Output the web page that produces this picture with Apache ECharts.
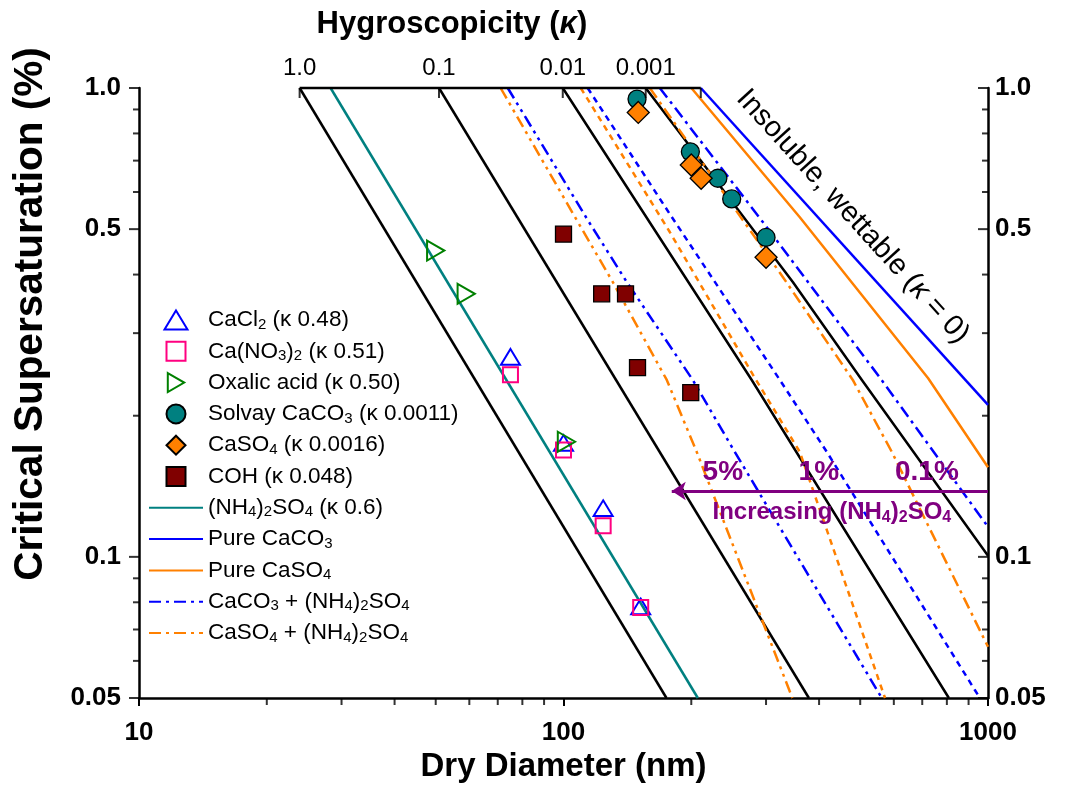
<!DOCTYPE html>
<html><head><meta charset="utf-8">
<script src="https://cdn.jsdelivr.net/npm/echarts@6/dist/echarts.min.js"></script>
<style>html,body{margin:0;padding:0;background:#fff}#c{width:1065px;height:793px}</style>
</head><body><div id="c"></div>
<script>
// ---------------- DATA ----------------
// kappa (top) axis
const kappaTopLabels = ['1.0', '0.1', '0.01', '0.001'];
const kappaTopX = [23.9, 50.9, 99.6, 156.2];
const kappaAxisEndX = 210.6;

// black kappa isolines
const kappa1Line = [[23.9, 1.0], [174.8, 0.05]];
const kappa01Line = [[50.9, 1.0], [378.5, 0.05]];
const kappa001Line = [[99.6, 1.0], [277.6, 0.2384], [808.7, 0.05]];
const kappa0001Line = [[156.2, 1.0], [346.9, 0.3858], [504.5, 0.2384], [1000, 0.1005]];

// theory lines
const ammSulfLine = [[28.27, 1.0], [207.2, 0.05]];
const pureCaCO3Line = [[210.6, 1.0], [1000, 0.211]];
const pureCaSO4Line = [[200.1, 1.0], [360.3, 0.530], [722.8, 0.2404], [1000, 0.1553]];
const caco3AS01 = [[168.6, 1.0], [294.8, 0.5178], [559.3, 0.2396], [1000, 0.1159]];
const caso4AS01 = [[159.7, 1.0], [328.6, 0.3954], [480.3, 0.2384], [593.6, 0.1674], [1000, 0.0643]];
const caco3AS1 = [[114.0, 1.0], [178.0, 0.5386], [319.8, 0.242], [417.2, 0.1674], [931.2, 0.052], [957, 0.05]];
const caso4AS1 = [[109.8, 1.0], [178.0, 0.493], [282.3, 0.2408], [360.3, 0.1674], [572, 0.05]];
const caco3AS5 = [[73.9, 1.0], [114.0, 0.5231], [140.9, 0.3858], [201.6, 0.2384], [253.2, 0.1674], [562, 0.05]];
const caso4AS5 = [[71.1, 1.0], [107.4, 0.5231], [130.6, 0.3858], [175.1, 0.2384], [206.0, 0.1674], [346, 0.05]];

// measurements
const cacl2 = [[75, 0.267], [100, 0.175], [124, 0.127], [152, 0.0784]];
const cano3 = [[75, 0.2445], [100, 0.169], [124, 0.1165], [152, 0.078]];
const oxalic = [[50, 0.45], [59, 0.364], [101.6, 0.176]];
const solvay = [[149, 0.947], [199, 0.731], [231, 0.642], [249, 0.58], [300, 0.48]];
const caso4 = [[150, 0.887], [200, 0.685], [211, 0.642], [300, 0.4355]];
const coh = [[100, 0.488], [123, 0.364], [140, 0.364], [149.4, 0.2533], [199.4, 0.224]];

// axis ticks
const yMajorTicks = [1.0, 0.5, 0.1, 0.05];
const yMajorLabels = ['1.0', '0.5', '0.1', '0.05'];
const yMinorTicks = [0.9, 0.8, 0.7, 0.6, 0.4, 0.3, 0.2, 0.09, 0.08, 0.07, 0.06];
const xMinorTicks = [20, 30, 40, 50, 60, 70, 80, 90, 200, 300, 400, 500, 600, 700, 800, 900];

// annotations (data coordinates)
const insolubleAnchor = [480, 0.532];
const pctAnchors = [[237.3, 0.1518], [399.4, 0.1518], [717.8, 0.1518]];
const pctLabels = ['5%', '1%', '0.1%'];
const increasingAnchor = [428.7, 0.1247];
const arrowStart = [1000, 0.1382];
const arrowEnd = [179.9, 0.1382];

// ---------------- STYLE ----------------
const FONT = "'Liberation Sans', Arial, Helvetica, sans-serif";
const BLUE = '#0000FF', ORANGE = '#FF8000', TEAL = '#008080', PURPLE = '#800080';
const LW = 2.5;
const DASHDOT = [12, 5, 3, 5];
const SHORTDASH = [6, 5];
const DASHDOTDOT = [12, 5, 3, 5, 3, 5];
const SYM_TRI_UP = 'path://M0,-10L11.5,9L-11.5,9Z';
const SYM_TRI_RIGHT = 'path://M-9,-11L10,0L-9,11Z';
const SYM_SQUARE = 'path://M0,0L10,0L10,10L0,10Z';
const SYM_DIAMOND = 'path://M0,-10L10,0L0,10L-10,0Z';

const legendRich = {
  '(NH4)2SO4 (κ 0.6)': '(NH{s|4}){s|2}SO{s|4} (κ 0.6)',
  'CaCl2 (κ 0.48)': 'CaCl{s|2} (κ 0.48)',
  'Ca(NO3)2 (κ 0.51)': 'Ca(NO{s|3}){s|2} (κ 0.51)',
  'Oxalic acid (κ 0.50)': 'Oxalic acid (κ 0.50)',
  'Solvay CaCO3 (κ 0.0011)': 'Solvay CaCO{s|3} (κ 0.0011)',
  'CaSO4 (κ 0.0016)': 'CaSO{s|4} (κ 0.0016)',
  'COH (κ 0.048)': 'COH (κ 0.048)',
  'Pure CaCO3': 'Pure CaCO{s|3}',
  'Pure CaSO4': 'Pure CaSO{s|4}',
  'CaCO3 + (NH4)2SO4': 'CaCO{s|3} + (NH{s|4}){s|2}SO{s|4}',
  'CaSO4 + (NH4)2SO4': 'CaSO{s|4} + (NH{s|4}){s|2}SO{s|4}'
};

function lineSeries(name, data, color, type, width) {
  return {
    name: name, type: 'line', data: data, symbol: 'none', z: 2,
    lineStyle: { color: color, width: width || LW, type: type || 'solid', join: 'round' },
    itemStyle: { color: 'rgba(0,0,0,0)', borderWidth: 0 }, silent: true
  };
}
function markerSeries(name, data, symbol, size, fill, border, bw) {
  return {
    name: name, type: 'scatter', data: data, symbol: symbol, symbolSize: size,
    symbolKeepAspect: true, z: 5, clip: false, silent: true,
    itemStyle: { color: fill, borderColor: border, borderWidth: bw, opacity: 1 }
  };
}
function tickSeries(data, size, offset) {
  return {
    type: 'scatter', data: data, symbol: 'rect', symbolSize: size, symbolOffset: offset,
    clip: false, silent: true, z: 6, itemStyle: { color: '#000' }
  };
}
function labelSeries(data, texts, pos, dist, textStyle, rotate) {
  return {
    type: 'scatter', data: data, symbolSize: 0, clip: false, silent: true, z: 7,
    itemStyle: { color: '#000', opacity: 1 },
    label: Object.assign({
      show: true, position: pos, distance: dist, rotate: rotate || 0,
      textBorderWidth: 0, textBorderColor: 'transparent', opacity: 1,
      formatter: function (p) { return texts[p.dataIndex]; }
    }, textStyle)
  };
}

const series = [
  lineSeries('k1', kappa1Line, '#000'),
  lineSeries('k01', kappa01Line, '#000'),
  lineSeries('k001', kappa001Line, '#000'),
  lineSeries('k0001', kappa0001Line, '#000'),
  lineSeries('CaCO3 + (NH4)2SO4', caco3AS01, BLUE, DASHDOT),
  lineSeries('CaSO4 + (NH4)2SO4', caso4AS01, ORANGE, DASHDOT),
  lineSeries('caco3AS1', caco3AS1, BLUE, SHORTDASH),
  lineSeries('caso4AS1', caso4AS1, ORANGE, SHORTDASH),
  lineSeries('caco3AS5', caco3AS5, BLUE, DASHDOTDOT),
  lineSeries('caso4AS5', caso4AS5, ORANGE, DASHDOTDOT),
  lineSeries('(NH4)2SO4 (κ 0.6)', ammSulfLine, TEAL),
  lineSeries('Pure CaCO3', pureCaCO3Line, BLUE),
  lineSeries('Pure CaSO4', pureCaSO4Line, ORANGE),
  markerSeries('CaCl2 (κ 0.48)', cacl2, SYM_TRI_UP, 19, 'rgba(255,255,255,0)', BLUE, 2),
  markerSeries('Ca(NO3)2 (κ 0.51)', cano3, SYM_SQUARE, 15, 'rgba(255,255,255,0)', '#FF0080', 2),
  markerSeries('Oxalic acid (κ 0.50)', oxalic, SYM_TRI_RIGHT, 20, 'rgba(255,255,255,0)', '#008000', 2),
  markerSeries('Solvay CaCO3 (κ 0.0011)', solvay, 'circle', 18, TEAL, '#000', 1.3),
  markerSeries('CaSO4 (κ 0.0016)', caso4, SYM_DIAMOND, 22, ORANGE, '#000', 1.3),
  markerSeries('COH (κ 0.048)', coh, SYM_SQUARE, 16, '#800000', '#000', 1.3),
  // top kappa axis line
  {
    type: 'line', data: [[kappaTopX[0], 1.0], [kappaAxisEndX, 1.0]], symbol: 'none', clip: false, z: 6, silent: true,
    lineStyle: { color: '#000', width: 2.5 }
  },
  tickSeries(kappaTopX.concat([kappaAxisEndX]).map(function (x) { return [x, 1.0]; }), [2, 10], [0, 5]),
  labelSeries(kappaTopX.map(function (x) { return [x, 1.0]; }), kappaTopLabels, 'top', 8,
    { fontSize: 24, fontFamily: FONT, color: '#000' }),
  // y ticks left & right, x minor ticks
  tickSeries(yMajorTicks.map(function (v) { return [10, v]; }), [10, 2], [-5, 0]),
  tickSeries(yMinorTicks.map(function (v) { return [10, v]; }), [6, 2], [-3, 0]),
  tickSeries(yMajorTicks.map(function (v) { return [1000, v]; }), [10, 2], [-5, 0]),
  tickSeries(yMinorTicks.map(function (v) { return [1000, v]; }), [6, 2], [-3, 0]),
  tickSeries(xMinorTicks.map(function (v) { return [v, 0.05]; }), [2, 7], [0, 3.5]),
  labelSeries(yMajorTicks.map(function (v) { return [10, v]; }), yMajorLabels, 'left', 18,
    { fontSize: 26, fontWeight: 'bold', fontFamily: FONT, color: '#000' }),
  labelSeries(yMajorTicks.map(function (v) { return [1000, v]; }), yMajorLabels, 'right', 7,
    { fontSize: 26, fontWeight: 'bold', fontFamily: FONT, color: '#000' }),
  // annotations
  labelSeries([insolubleAnchor], ['Insoluble, wettable ({i|κ} = 0)'], 'inside', 0,
    { fontSize: 29, fontFamily: FONT, color: '#000',
      rich: { i: { fontSize: 29, fontStyle: 'italic', fontFamily: FONT, color: '#000' } } }, -47.8),
  labelSeries(pctAnchors, pctLabels, 'inside', 0,
    { fontSize: 28, fontWeight: 'bold', fontFamily: FONT, color: PURPLE }),
  Object.assign(labelSeries([increasingAnchor], ['Increasing (NH{s|4}){s|2}SO{s|4}'], 'inside', 0,
    { fontSize: 24, fontWeight: 'bold', fontFamily: FONT, color: PURPLE, lineHeight: 28,
      rich: { s: { fontSize: 16, fontWeight: 'bold', fontFamily: FONT, color: PURPLE, lineHeight: 16, verticalAlign: 'bottom' } } }), {
    markLine: {
      silent: true, symbol: ['none', 'arrow'], symbolSize: 14,
      label: { show: false },
      lineStyle: { color: PURPLE, width: 3, type: 'solid' },
      data: [[{ coord: arrowStart }, { coord: arrowEnd }]]
    }
  })
];

const option = {
  animation: false,
  backgroundColor: '#fff',
  title: {
    text: 'Hygroscopicity ({i|κ})', left: 447, top: 4, textAlign: 'center',
    textStyle: { fontSize: 31, fontWeight: 'bold', fontFamily: FONT, color: '#000',
      rich: { i: { fontSize: 31, fontWeight: 'bold', fontStyle: 'italic', fontFamily: FONT, color: '#000' } } }
  },
  graphic: [{
    type: 'text', x: 31, y: 314, rotation: Math.PI / 2,
    style: { text: 'Critical Supersaturation (%)', font: 'bold 40.5px ' + FONT, fill: '#000', align: 'center', verticalAlign: 'middle' }
  }],
  grid: { left: 139, right: 77, top: 88, bottom: 95 },
  legend: {
    orient: 'vertical', left: 148, top: 308, padding: 0, itemWidth: 54, itemHeight: 19, itemGap: 7.3,
    symbolKeepAspect: true,
    data: ['CaCl2 (κ 0.48)', 'Ca(NO3)2 (κ 0.51)', 'Oxalic acid (κ 0.50)', 'Solvay CaCO3 (κ 0.0011)',
      'CaSO4 (κ 0.0016)', 'COH (κ 0.048)', '(NH4)2SO4 (κ 0.6)', 'Pure CaCO3', 'Pure CaSO4',
      'CaCO3 + (NH4)2SO4', 'CaSO4 + (NH4)2SO4'],
    formatter: function (n) { return legendRich[n] || n; },
    textStyle: { fontSize: 22.5, fontFamily: FONT, color: '#000', lineHeight: 24,
      rich: { s: { fontSize: 15, fontFamily: FONT, color: '#000', lineHeight: 15, verticalAlign: 'bottom' } } },
    selectedMode: false
  },
  xAxis: {
    type: 'log', logBase: 10, min: 10, max: 1000,
    name: 'Dry Diameter (nm)', nameLocation: 'middle', nameGap: 47,
    nameTextStyle: { fontSize: 33, fontWeight: 'bold', fontFamily: FONT, color: '#000' },
    axisLine: { show: true, lineStyle: { color: '#000', width: 2.5 } },
    axisTick: { show: true, length: 8, lineStyle: { color: '#000', width: 2 } },
    axisLabel: { fontSize: 26, fontWeight: 'bold', fontFamily: FONT, color: '#000', margin: 22,
      formatter: function (v) { return String(Math.round(v)); } },
    splitLine: { show: false }
  },
  yAxis: [
    { type: 'log', logBase: 10, min: 0.05, max: 1, position: 'left',
      axisLine: { show: true, lineStyle: { color: '#000', width: 2.5 } },
      axisTick: { show: false }, axisLabel: { show: false }, splitLine: { show: false } },
    { type: 'log', logBase: 10, min: 0.05, max: 1, position: 'right',
      axisLine: { show: true, lineStyle: { color: '#000', width: 2.5 } },
      axisTick: { show: false }, axisLabel: { show: false }, splitLine: { show: false } }
  ],
  series: series
};

const chart = echarts.init(document.getElementById('c'), null, { renderer: 'canvas', width: 1065, height: 793 });
chart.setOption(option);
</script>
</body></html>
